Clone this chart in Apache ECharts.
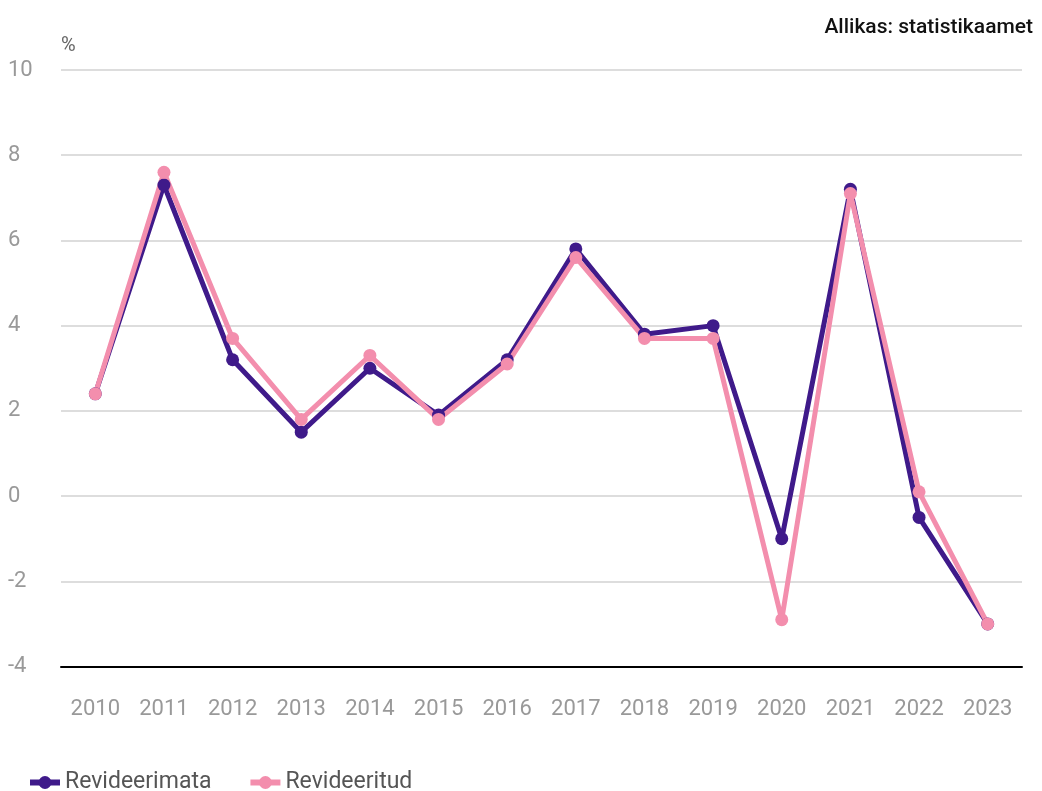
<!DOCTYPE html>
<html>
<head>
<meta charset="utf-8">
<script src="https://cdn.jsdelivr.net/npm/echarts@6/dist/echarts.min.js"></script>
<style>
html, body { margin: 0; padding: 0; background: #fff; }
#chart { width: 1042px; height: 791px; }
</style>
</head>
<body>
<div id="chart"></div>
<script>
var years = ['2010', '2011', '2012', '2013', '2014', '2015', '2016', '2017', '2018', '2019', '2020', '2021', '2022', '2023'];
var revideerimata = [2.4, 7.3, 3.2, 1.5, 3.0, 1.9, 3.2, 5.8, 3.8, 4.0, -1.0, 7.2, -0.5, -3.0];
var revideeritud = [2.4, 7.6, 3.7, 1.8, 3.3, 1.8, 3.1, 5.6, 3.7, 3.7, -2.9, 7.1, 0.1, -3.0];

var myChart = echarts.init(document.getElementById('chart'));

function lineSerie(name, data, color) {
	return {
		name: name,
		type: 'line',
		data: data,
		symbol: 'circle',
		symbolSize: 13,
		itemStyle: { color: color },
		lineStyle: { color: color, width: 5 },
		emphasis: { disabled: true }
	};
}

myChart.setOption({
	animation: false,
	textStyle: { fontFamily: 'Roboto' },
	title: {
		text: 'Allikas: statistikaamet',
		right: 4,
		top: 12,
		textStyle: { fontSize: 21, fontWeight: 500, color: '#111', fontFamily: 'Roboto' }
	},
	legend: {
		left: 22,
		top: 766,
		itemWidth: 30,
		itemHeight: 16,
		itemGap: 36,
		lineStyle: { width: 6 },
		textStyle: { fontSize: 23, color: '#555' },
		data: ['Revideerimata', 'Revideeritud']
	},
	grid: { left: 61, right: 20, top: 70, bottom: 124.5 },
	xAxis: {
		type: 'category',
		data: years,
		boundaryGap: true,
		axisLine: { onZero: false, lineStyle: { color: '#000', width: 2 } },
		axisTick: { show: false },
		axisLabel: { color: '#999', fontSize: 22, margin: 32 }
	},
	yAxis: {
		type: 'value',
		min: -4,
		max: 10,
		interval: 2,
		name: '%',
		nameLocation: 'end',
		nameGap: 14,
		nameTextStyle: { color: '#666', fontSize: 20, align: 'left' },
		axisLine: { show: false },
		axisTick: { show: false },
		axisLabel: { color: '#999', fontSize: 22, align: 'left', margin: 53 },
		splitLine: { lineStyle: { color: '#ddd', width: 2 } }
	},
	series: [
		lineSerie('Revideerimata', revideerimata, '#3f1a8a'),
		lineSerie('Revideeritud', revideeritud, '#f38ead')
	]
});
</script>
</body>
</html>
